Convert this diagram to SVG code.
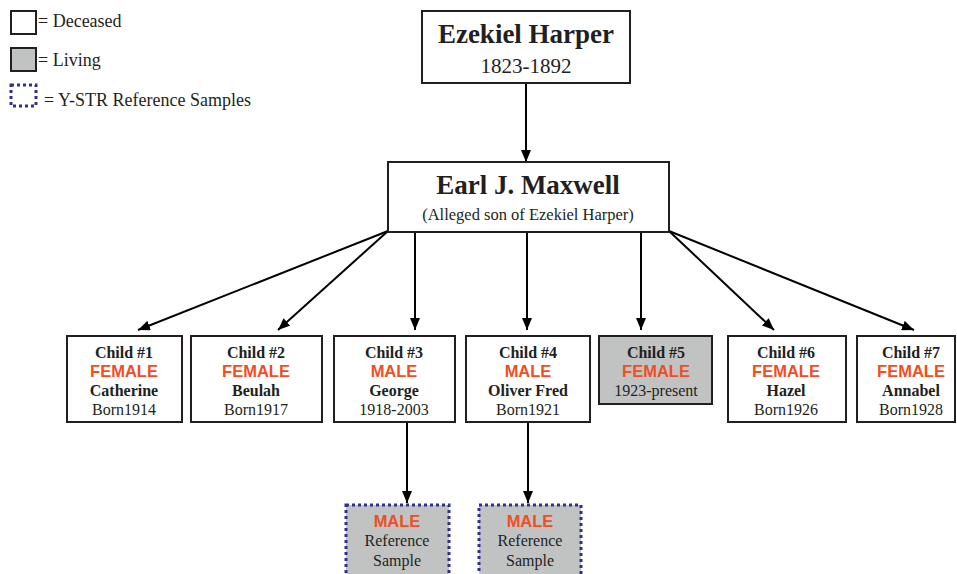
<svg xmlns="http://www.w3.org/2000/svg" width="957" height="574" viewBox="0 0 957 574">
<defs>
<marker id="ah" viewBox="0 0 12 10" refX="12" refY="5" markerWidth="12" markerHeight="10" markerUnits="userSpaceOnUse" orient="auto">
<path d="M0,0 L12,5 L0,10 Z" fill="#000"/>
</marker>
<style>
.box{fill:#fff;stroke:#231f20;stroke-width:2}
.live{fill:#c1c3c3;stroke:#231f20;stroke-width:2}
.ref{fill:#c1c3c3;stroke:#2e3192;stroke-width:3;stroke-dasharray:3 3}
.conn{stroke:#000;stroke-width:2;fill:none;marker-end:url(#ah)}
text{font-family:"Liberation Serif","Times New Roman",serif;fill:#231f20;text-anchor:middle}
.b{font-weight:bold;font-size:16px}
.r{font-size:16px}
.sx{font-family:"Liberation Sans",Arial,sans-serif;font-weight:bold;font-size:16.5px;fill:#f04e23}
.leg{font-size:18px;text-anchor:start}
</style>
</defs>
<g id="legend">
<rect class="box" x="11" y="11" width="25" height="23"/>
<text class="leg" x="38" y="27">= Deceased</text>
<rect class="live" x="11" y="48" width="25" height="23"/>
<text class="leg" x="38" y="66">= Living</text>
<rect x="11" y="85" width="25" height="21" fill="#fff" stroke="#2e3192" stroke-width="3" stroke-dasharray="3 3"/>
<text class="leg" x="44" y="106">= Y-STR Reference Samples</text>
</g>
<g id="connectors">
<line class="conn" x1="526" y1="83" x2="526" y2="162"/>
<line class="conn" x1="388" y1="231" x2="138" y2="330"/>
<line class="conn" x1="388" y1="231" x2="278" y2="330"/>
<line class="conn" x1="415" y1="232" x2="415" y2="330"/>
<line class="conn" x1="527" y1="232" x2="527" y2="330"/>
<line class="conn" x1="641" y1="232" x2="641" y2="330"/>
<line class="conn" x1="669" y1="231" x2="774" y2="330"/>
<line class="conn" x1="669" y1="231" x2="914" y2="330"/>
<line class="conn" x1="407" y1="422" x2="407" y2="503"/>
<line class="conn" x1="528" y1="422" x2="528" y2="503"/>
</g>
<g id="ezekiel">
<rect class="box" x="422" y="11" width="208" height="72"/>
<text x="526" y="43" font-weight="bold" font-size="27px">Ezekiel Harper</text>
<text x="526" y="73" font-size="21px">1823-1892</text>
</g>
<g id="earl">
<rect class="box" x="388" y="162" width="281" height="70"/>
<text x="528" y="194" font-weight="bold" font-size="27px">Earl J. Maxwell</text>
<text x="528" y="220" font-size="16.5px">(Alleged son of Ezekiel Harper)</text>
</g>
<g id="child1">
<rect class="box" x="67" y="336" width="115" height="86"/>
<text class="b" x="124" y="358">Child #1</text>
<text class="sx" x="124" y="377">FEMALE</text>
<text class="b" x="124" y="396">Catherine</text>
<text class="r" x="124" y="415">Born1914</text>
</g>
<g id="child2">
<rect class="box" x="191" y="336" width="131" height="86"/>
<text class="b" x="256" y="358">Child #2</text>
<text class="sx" x="256" y="377">FEMALE</text>
<text class="b" x="256" y="396">Beulah</text>
<text class="r" x="256" y="415">Born1917</text>
</g>
<g id="child3">
<rect class="box" x="334" y="336" width="121" height="86"/>
<text class="b" x="394" y="358">Child #3</text>
<text class="sx" x="394" y="377">MALE</text>
<text class="b" x="394" y="396">George</text>
<text class="r" x="394" y="415">1918-2003</text>
</g>
<g id="child4">
<rect class="box" x="466" y="336" width="124" height="86"/>
<text class="b" x="528" y="358">Child #4</text>
<text class="sx" x="528" y="377">MALE</text>
<text class="b" x="528" y="396">Oliver Fred</text>
<text class="r" x="528" y="415">Born1921</text>
</g>
<g id="child5">
<rect class="live" x="599" y="336" width="113" height="68"/>
<text class="b" x="656" y="358">Child #5</text>
<text class="sx" x="656" y="377">FEMALE</text>
<text class="r" x="656" y="396">1923-present</text>
</g>
<g id="child6">
<rect class="box" x="728" y="336" width="118" height="86"/>
<text class="b" x="786" y="358">Child #6</text>
<text class="sx" x="786" y="377">FEMALE</text>
<text class="b" x="786" y="396">Hazel</text>
<text class="r" x="786" y="415">Born1926</text>
</g>
<g id="child7">
<rect class="box" x="857" y="336" width="98" height="86"/>
<text class="b" x="911" y="358">Child #7</text>
<text class="sx" x="911" y="377">FEMALE</text>
<text class="b" x="911" y="396">Annabel</text>
<text class="r" x="911" y="415">Born1928</text>
</g>
<g id="sample1">
<rect class="ref" x="346" y="505" width="103" height="75"/>
<text class="sx" x="397" y="527">MALE</text>
<text class="r" x="397" y="546">Reference</text>
<text class="r" x="397" y="566">Sample</text>
</g>
<g id="sample2">
<rect class="ref" x="479" y="505" width="102" height="75"/>
<text class="sx" x="530" y="527">MALE</text>
<text class="r" x="530" y="546">Reference</text>
<text class="r" x="530" y="566">Sample</text>
</g>
</svg>
